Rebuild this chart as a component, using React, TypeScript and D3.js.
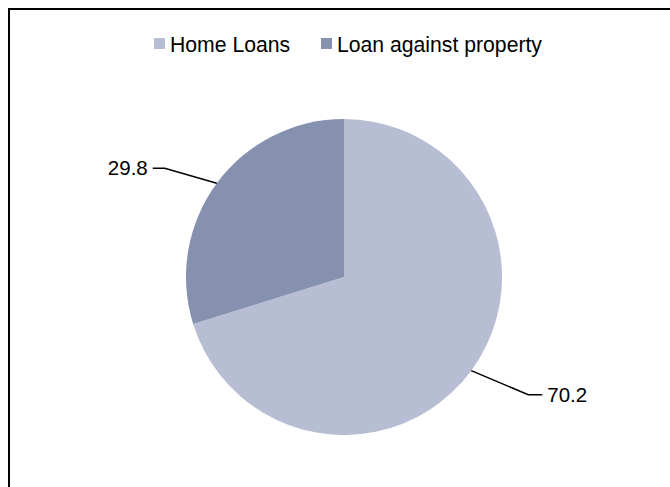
import React from "react";
import * as d3 from "d3";

const categories = ["Home Loans", "Loan against property"];
const values = [70.2, 29.8];
const labels = ["70.2", "29.8"];
const colors = ["#B7BDD3", "#8591AF"];

const W = 670;
const H = 487;
const cx = 344;
const cy = 277;
const R = 158;

export default function App() {
  const pie = d3.pie<number>().sort(null).value((d) => d)(values);
  const arc = d3.arc<d3.PieArcDatum<number>>().innerRadius(0).outerRadius(R);
  const edgeArc = d3.arc<d3.PieArcDatum<number>>().innerRadius(R).outerRadius(R);

  return (
    <svg
      width={W}
      height={H}
      style={{ position: "absolute", left: 0, top: 0, fontFamily: "'Liberation Sans', Arial, sans-serif" }}
    >
      <rect x={0} y={0} width={W} height={H} fill="#fff" />
      <rect x={9} y={9} width={W + 20} height={H + 20} fill="none" stroke="#000" strokeWidth={2} />
      <g transform={`translate(${cx},${cy})`}>
        {pie.map((p, i) => (
          <path key={i} d={arc(p) || ""} fill={colors[i]} />
        ))}
      </g>
      {pie.map((p, i) => {
        const [ex, ey] = edgeArc.centroid(p);
        const sx = cx + ex;
        const sy = cy + ey;
        const right = ex > 0;
        const dir = right ? 1 : -1;
        const elbowX = sx + dir * (right ? 57 : 52);
        const elbowY = sy + (right ? 24 : -15);
        const endX = elbowX + dir * (right ? 14 : 12);
        return (
          <g key={"l" + i}>
            <polyline
              points={`${sx},${sy} ${elbowX},${elbowY} ${endX},${elbowY}`}
              fill="none"
              stroke="#000"
              strokeWidth={1.5}
            />
            <text
              x={endX + dir * 5}
              y={elbowY + 7}
              fontSize={20.5}
              textAnchor={right ? "start" : "end"}
              fill="#000"
            >
              {labels[i]}
            </text>
          </g>
        );
      })}
      <g>
        {categories.map((c, i) => {
          const x0 = i === 0 ? 154 : 321;
          return (
            <g key={"lg" + i}>
              <rect x={x0} y={38} width={11} height={11} fill={colors[i]} />
              <text x={x0 + 16} y={52} fontSize={21.2} fill="#000">
                {c}
              </text>
            </g>
          );
        })}
      </g>
    </svg>
  );
}
